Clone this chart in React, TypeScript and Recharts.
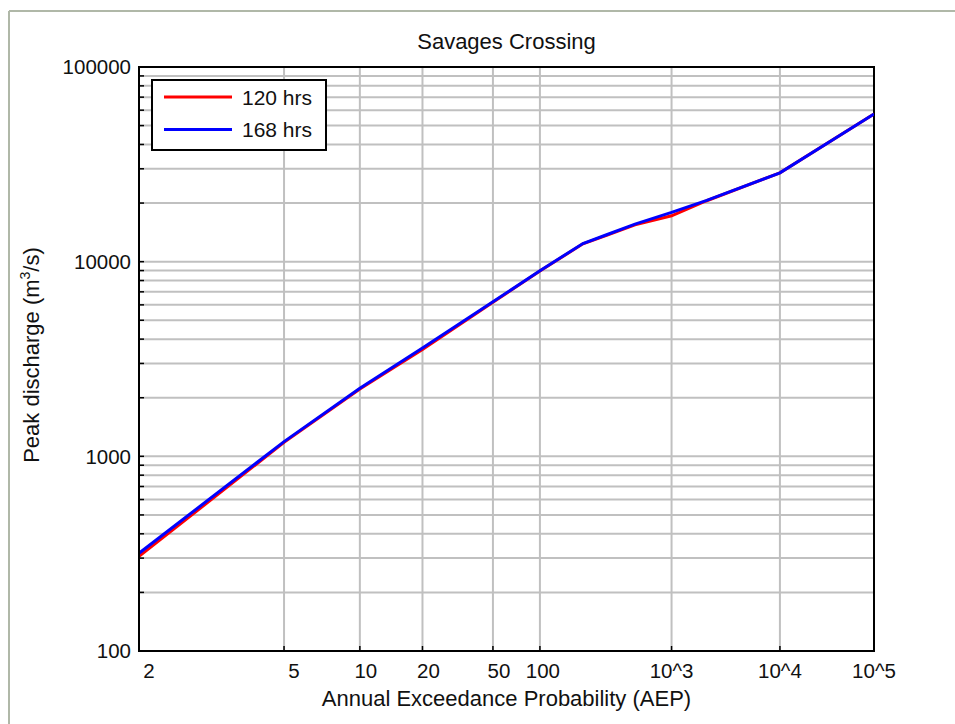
import React from 'react';
import { LineChart, Line, XAxis, YAxis, CartesianGrid, Legend, ReferenceArea, Label } from 'recharts';

// ---------- data ----------
const AEP = [2, 5, 10, 20, 50, 100, 200, 300, 500, 1000, 2000, 10000, 100000];
const Q_120 = [306, 1180, 2220, 3540, 6180, 8950, 12350, 13650, 15450, 17200, 20500, 28600, 57300];
const Q_168 = [318, 1190, 2240, 3600, 6220, 8980, 12400, 13750, 15600, 17900, 20600, 28600, 57300];

const X_TICK_AEP = [2, 5, 10, 20, 50, 100, 1000, 10000, 100000];
const X_TICK_LABELS = ['2', '5', '10', '20', '50', '100', '10^3', '10^4', '10^5'];

const Y_DECADES = [100, 1000, 10000, 100000];
const Y_DECADE_LABELS = ['100', '1000', '10000', '100000'];

const SERIES_NAMES = ['120 hrs', '168 hrs'];
const SERIES_COLORS = ['#ff0000', '#0000ff'];

const TITLE = 'Savages Crossing';
const X_TITLE = 'Annual Exceedance Probability (AEP)';

// ---------- normal-probability axis transform ----------
function probitLower(p: number): number {
  const a = [-3.969683028665376e1, 2.209460984245205e2, -2.759285104469687e2, 1.38357751867269e2, -3.066479806614716e1, 2.506628277459239];
  const b = [-5.447609879822406e1, 1.615858368580409e2, -1.556989798598866e2, 6.680131188771972e1, -1.328068155288572e1];
  const c = [-7.784894002430293e-3, -3.223964580411365e-1, -2.400758277161838, -2.549732539343734, 4.374664141464968, 2.938163982698783];
  const d = [7.784695709041462e-3, 3.224671290700398e-1, 2.445134137142996, 3.754408661907416];
  const pl = 0.02425;
  if (p < pl) {
    const q = Math.sqrt(-2 * Math.log(p));
    return (((((c[0] * q + c[1]) * q + c[2]) * q + c[3]) * q + c[4]) * q + c[5]) /
      ((((d[0] * q + d[1]) * q + d[2]) * q + d[3]) * q + 1);
  }
  if (p <= 1 - pl) {
    const q = p - 0.5;
    const r = q * q;
    return (((((a[0] * r + a[1]) * r + a[2]) * r + a[3]) * r + a[4]) * r + a[5]) * q /
      (((((b[0] * r + b[1]) * r + b[2]) * r + b[3]) * r + b[4]) * r + 1);
  }
  const q = Math.sqrt(-2 * Math.log(1 - p));
  return -(((((c[0] * q + c[1]) * q + c[2]) * q + c[3]) * q + c[4]) * q + c[5]) /
    ((((d[0] * q + d[1]) * q + d[2]) * q + d[3]) * q + 1);
}
// AEP "1 in Y" -> standard normal variate of non-exceedance
const toZ = (aep: number) => (aep === 2 ? 0 : -probitLower(1 / aep));

const data = AEP.map((a, i) => ({ z: toZ(a), q120: Q_120[i], q168: Q_168[i] }));
const X_TICK_Z = X_TICK_AEP.map(toZ);
const X_MIN = toZ(X_TICK_AEP[0]);
const X_MAX = toZ(X_TICK_AEP[X_TICK_AEP.length - 1]);

const Y_TICKS: number[] = [];
Y_DECADES.forEach((d, i) => {
  if (i === Y_DECADES.length - 1) { Y_TICKS.push(d); return; }
  for (let k = 1; k <= 9; k++) Y_TICKS.push(d * k);
});

const FONT = '"Liberation Sans", Arial, sans-serif';
const TEXT_COLOR = '#111';

const XTick = (props: any) => {
  const { x, y, payload } = props;
  const idx = X_TICK_Z.findIndex((v) => Math.abs(v - payload.value) < 1e-6);
  const label = idx >= 0 ? X_TICK_LABELS[idx] : '';
  const dx = label.length === 1 ? 10 : label.length === 2 ? 6 : label.length === 3 ? 3 : 0;
  return (
    <text x={x + dx} y={y} dy="0.71em" textAnchor="middle" fontSize={20.5} fontFamily={FONT} fill={TEXT_COLOR}>
      {label}
    </text>
  );
};

const YTick = (props: any) => {
  const { x, y, payload } = props;
  const idx = Y_DECADES.findIndex((v) => Math.abs(v - payload.value) < 1e-6);
  if (idx < 0) return <g />;
  return (
    <text x={x} y={y} dy="0.36em" textAnchor="end" fontSize={20.5} fontFamily={FONT} fill={TEXT_COLOR}>
      {Y_DECADE_LABELS[idx]}
    </text>
  );
};

const YTitle = (props: any) => {
  const vb = props.viewBox || { x: 0, y: 67, width: 139, height: 584 };
  const cx = vb.x + 31;
  const cy = vb.y + vb.height / 2 - 4;
  return (
    <text x={cx} y={cy} dy="0.35em" transform={`rotate(-90, ${cx}, ${cy})`} textAnchor="middle"
      fontSize={22} fontFamily={FONT} fill={TEXT_COLOR}>
      <tspan>Peak discharge (m</tspan>
      <tspan fontSize={14} dy={-9}>3</tspan>
      <tspan dy={9}>/s)</tspan>
    </text>
  );
};

const XTitle = (props: any) => {
  const vb = props.viewBox || { x: 139, y: 651, width: 735, height: 73 };
  return (
    <text x={vb.x + vb.width / 2} y={vb.y + 55} textAnchor="middle" fontSize={22} fontFamily={FONT} fill={TEXT_COLOR}>
      {X_TITLE}
    </text>
  );
};

const LegendBox = (props: any) => {
  const payload = props.payload || [];
  return (
    <div style={{ width: 176, height: 72, boxSizing: 'border-box', border: '2px solid #000', background: '#fff' }}>
      <svg width={172} height={68} style={{ display: 'block' }}>
        {payload.map((p: any, i: number) => {
          const yy = 16 + i * 32.5;
          return (
            <g key={i}>
              <line x1={11} x2={79} y1={yy} y2={yy} stroke={p.color} strokeWidth={3} />
              <text x={89} y={yy} dy="0.36em" fontSize={21} fontFamily={FONT} fill={TEXT_COLOR}>{p.value}</text>
            </g>
          );
        })}
      </svg>
    </div>
  );
};

export default function App() {
  return (
    <div style={{ position: 'absolute', left: 0, top: 0, width: 955, height: 724, background: '#fff' }}>
      <LineChart width={955} height={724} data={data} margin={{ top: 67, right: 81, bottom: 0, left: 0 }}>
        <CartesianGrid stroke="#c0c0c0" strokeWidth={2} />
        <XAxis
          dataKey="z"
          type="number"
          domain={[X_MIN, X_MAX]}
          ticks={X_TICK_Z}
          interval={0}
          allowDataOverflow
          height={73}
          tickSize={-5}
          tickMargin={17}
          axisLine={{ stroke: '#000', strokeWidth: 2 }}
          tickLine={{ stroke: '#000', strokeWidth: 1.5 }}
          tick={<XTick />}
        >
          <Label content={<XTitle />} />
        </XAxis>
        <YAxis
          type="number"
          scale="log"
          domain={[Y_DECADES[0], Y_DECADES[Y_DECADES.length - 1]]}
          ticks={Y_TICKS}
          interval={0}
          allowDataOverflow
          width={139}
          tickSize={-5}
          tickMargin={13}
          axisLine={{ stroke: '#000', strokeWidth: 2 }}
          tickLine={{ stroke: '#000', strokeWidth: 1.5 }}
          tick={<YTick />}
        >
          <Label content={<YTitle />} />
        </YAxis>
        <ReferenceArea
          x1={X_MIN}
          x2={X_MAX}
          y1={Y_DECADES[0]}
          y2={Y_DECADES[Y_DECADES.length - 1]}
          fill="none"
          fillOpacity={0}
          stroke="#000"
          strokeWidth={2}
          ifOverflow="visible"
        />
        <Line type="linear" dataKey="q120" name={SERIES_NAMES[0]} stroke={SERIES_COLORS[0]} strokeWidth={3} dot={false} isAnimationActive={false} />
        <Line type="linear" dataKey="q168" name={SERIES_NAMES[1]} stroke={SERIES_COLORS[1]} strokeWidth={3} dot={false} isAnimationActive={false} />
        <Legend
          layout="vertical"
          align="center"
          verticalAlign="middle"
          content={<LegendBox />}
          wrapperStyle={{ left: 151, top: 79, width: 176, height: 72 }}
        />
      </LineChart>
      <svg width={955} height={724} style={{ position: 'absolute', left: 0, top: 0, pointerEvents: 'none' }}>
        <line x1={9} y1={11} x2={955} y2={11} stroke="#b0b8a8" strokeWidth={2} />
        <line x1={9} y1={11} x2={9} y2={724} stroke="#b0b8a8" strokeWidth={2} />
        <text x={506.5} y={49} textAnchor="middle" fontSize={22} fontFamily={FONT} fill={TEXT_COLOR}>{TITLE}</text>
      </svg>
    </div>
  );
}
